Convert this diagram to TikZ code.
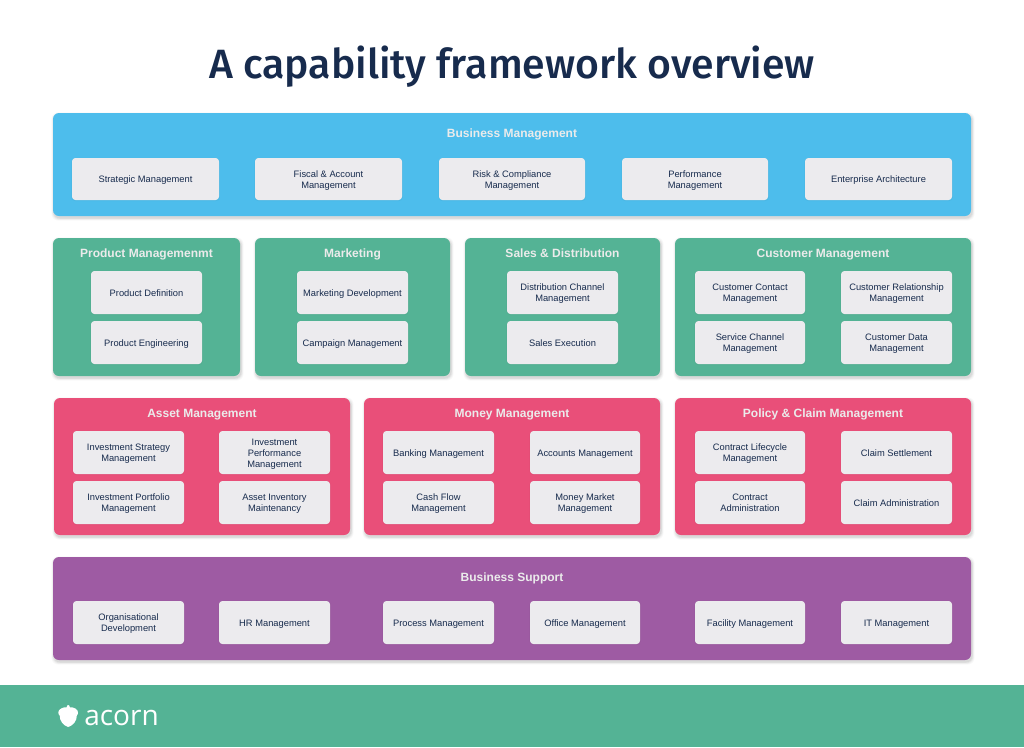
\documentclass[tikz,border=0pt]{standalone}
\usepackage{fontspec}
\setmainfont{Liberation Sans}
\newfontfamily\titlefont{Fira Sans}[UprightFont=* Medium]
\newfontfamily\headfont{Liberation Sans}[UprightFont=* Bold]
\newfontfamily\logofont{Open Sans}
\definecolor{navy}{HTML}{172B4D}
\definecolor{skyb}{HTML}{4DBDEC}
\definecolor{greenb}{HTML}{54B395}
\definecolor{redb}{HTML}{E94F79}
\definecolor{purpb}{HTML}{9E5BA3}
\definecolor{cardb}{HTML}{ECEBEE}
\newcommand{\dph}{\vphantom{g}}
\tikzset{
  cardbox/.style={fill=cardb,rounded corners=2.5pt},
  cardtext/.style={inner sep=0pt,align=center,text=navy,font=\fontsize{7}{8.3}\selectfont},
  groupbox/.style={rounded corners=4.5pt,inner sep=0pt},
  grouptitle/.style={text=white!92!black,inner sep=0pt,font=\headfont\fontsize{9}{11}\selectfont,anchor=base}
}
% \grp{name}{x1}{y1}{x2}{y2}{colour}{title}{title y}
\newcommand{\grp}[8]{%
  \foreach \sz/\op in {2.6/.025,1.9/.035,1.2/.045,0.5/.05}{
    \fill[black,opacity=\op,rounded corners=5pt] (#2-\sz+1,#3-\sz+2) rectangle (#4+\sz+1,#5+\sz+2);
  }
  \fill[#6,groupbox] (#2,#3) rectangle (#4,#5);
  \coordinate (#1c) at ({(#2+#4)/2},#8+3.5);
  \node[grouptitle] (#1) at (#1c) {#7};
}
% \crd{name}{x1}{y1}{x2}{y2}{text}
\newcommand{\crd}[6]{%
  \fill[black,opacity=.03,rounded corners=3pt] (#2-0.6,#3-0.2) rectangle (#4+0.8,#5+1.2);
  \path[cardbox] (#2,#3) rectangle (#4,#5);
  \node[cardtext] (#1) at ({(#2+#4)/2},{(#3+#5)/2+1.4}) {#6};
}
\begin{document}
\begin{tikzpicture}[x=0.75pt,y=-0.75pt]
\useasboundingbox (0,0) rectangle (1024,747);
\fill[white] (0,0) rectangle (1024,747);
\node[text=navy,inner sep=0pt,anchor=base,font=\titlefont\fontsize{30.7}{36}\selectfont] (title) at (512,78) {A capability framework overview};

% Business Management
\grp{bm}{53}{113}{971}{216}{skyb}{Business Management}{134}
\crd{bma}{72}{158}{219}{200}{Strategic Management}
\crd{bmb}{255}{158}{402}{200}{Fiscal \& Account\\Management}
\crd{bmc}{439}{158}{585}{200}{Risk \& Compliance\\Management}
\crd{bmd}{622}{158}{768}{200}{Performance\\Management}
\crd{bme}{805}{158}{952}{200}{Enterprise Architecture}

% Row 2
\grp{pm}{53}{238}{240}{376}{greenb}{Product Managemenmt}{254}
\crd{pma}{91}{271}{202}{314}{Product Definition\dph}
\crd{pmb}{91}{321}{202}{364}{Product Engineering}
\grp{mk}{255}{238}{450}{376}{greenb}{Marketing}{254}
\crd{mka}{297}{271}{408}{314}{Marketing Development}
\crd{mkb}{297}{321}{408}{364}{Campaign Management}
\grp{sd}{465}{238}{660}{376}{greenb}{Sales \& Distribution}{254}
\crd{sda}{507}{271}{618}{314}{Distribution Channel\\Management}
\crd{sdb}{507}{321}{618}{364}{Sales Execution\dph}
\grp{cm}{675}{238}{971}{376}{greenb}{Customer Management}{254}
\crd{cma}{695}{271}{805}{314}{Customer Contact\\Management}
\crd{cmb}{841}{271}{952}{314}{Customer Relationship\\Management}
\crd{cmc}{695}{321}{805}{364}{Service Channel\\Management}
\crd{cmd}{841}{321}{952}{364}{Customer Data\\Management}

% Row 3
\grp{am}{54}{398}{350}{535}{redb}{Asset Management}{414}
\crd{ama}{73}{431}{184}{474}{Investment Strategy\\Management}
\crd{amb}{219}{431}{330}{474}{Investment\\Performance\\Management}
\crd{amc}{73}{481}{184}{524}{Investment Portfolio\\Management}
\crd{amd}{219}{481}{330}{524}{Asset Inventory\\Maintenancy}
\grp{mm}{364}{398}{660}{535}{redb}{Money Management}{414}
\crd{mma}{383}{431}{494}{474}{Banking Management}
\crd{mmb}{530}{431}{640}{474}{Accounts Management}
\crd{mmc}{383}{481}{494}{524}{Cash Flow\\Management}
\crd{mmd}{530}{481}{640}{524}{Money Market\\Management}
\grp{pc}{675}{398}{971}{535}{redb}{Policy \& Claim Management}{414}
\crd{pca}{695}{431}{805}{474}{Contract Lifecycle\\Management}
\crd{pcb}{841}{431}{952}{474}{Claim Settlement\dph}
\crd{pcc}{695}{481}{805}{524}{Contract\\Administration\dph}
\crd{pcd}{841}{481}{952}{524}{Claim Administration\dph}

% Business Support
\grp{bs}{53}{557}{971}{660}{purpb}{Business Support}{578}
\crd{bsa}{73}{601}{184}{644}{Organisational\\Development}
\crd{bsb}{219}{601}{330}{644}{HR Management}
\crd{bsc}{383}{601}{494}{644}{Process Management}
\crd{bsd}{530}{601}{640}{644}{Office Management}
\crd{bse}{695}{601}{805}{644}{Facility Management}
\crd{bsf}{841}{601}{952}{644}{IT Management}

% Footer
\fill[greenb] (0,685) rectangle (1024,747);
\fill[white] (68.2,705) .. controls (69.2,705) and (69.8,706) .. (69.8,707.3)
  .. controls (73.5,707) and (78,709) .. (78,712.5)
  .. controls (78,714) and (77.5,715) .. (76.8,715.5)
  .. controls (77,721) and (73,725.5) .. (68.2,727)
  .. controls (63.5,725.5) and (59.5,721) .. (59.7,715.5)
  .. controls (59,715) and (58.3,714) .. (58.3,712.5)
  .. controls (58.3,709) and (63,707) .. (66.7,707.3)
  .. controls (66.7,706) and (67.2,705) .. (68.2,705) -- cycle;
\node[text=white,inner sep=0pt,anchor=base west,font=\logofont\fontsize{21}{26}\selectfont] (logo) at (84,725) {acorn};
\end{tikzpicture}
\end{document}
